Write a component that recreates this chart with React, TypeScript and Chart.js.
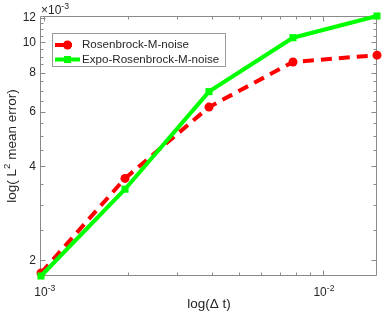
import React, { useEffect, useRef } from "react";
import { Chart, registerables } from "chart.js";

Chart.register(...registerables);

// ---- data ----
const dtValues = [1 / 1024, 1 / 512, 1 / 256, 1 / 128, 1 / 64];
const rosenbrockErr = [1.82e-3, 3.66e-3, 6.2e-3, 8.65e-3, 9.1e-3];
const expoRosenbrockErr = [1.78e-3, 3.38e-3, 6.95e-3, 10.35e-3, 12.15e-3];
const seriesLabels = ["Rosenbrock-M-noise", "Expo-Rosenbrock-M-noise"];
const xLimits = [1 / 1024, 1 / 64];
const yLimits = [1.78e-3, 12.15e-3];
const xMajorExponents = [-3, -2];
const xMinorTicks = [2e-3, 3e-3, 4e-3, 5e-3, 6e-3, 7e-3, 8e-3, 9e-3];
const yMajorTicks = [2, 4, 6, 8, 10, 12]; // ×10^-3
const yMinorTicks = [2.5, 3, 3.5, 4.5, 5, 5.5, 6.5, 7, 7.5, 8.5, 9, 9.5, 10.5, 11, 11.5]; // ×10^-3
const yScaleExponent = -3;
const xTitle = "log(Δ t)";
const yTitleParts = ["log( L", "2", " mean error)"];

const RED = "#ff0000";
const GREEN = "#00ff00";
const AXIS = "#8a8a8a";
const TEXT = "#262626";
const FONT = "'Liberation Sans', Arial, Helvetica, sans-serif";

type Seg = { t: string; sup?: boolean };

function drawRich(ctx: CanvasRenderingContext2D, segs: Seg[], x: number, y: number, align: "left" | "center" | "right", size: number) {
  const supSize = size * 0.72;
  const widths = segs.map((s) => {
    ctx.font = `${s.sup ? supSize : size}px ${FONT}`;
    return ctx.measureText(s.t).width;
  });
  const total = widths.reduce((a, b) => a + b, 0);
  let cx = align === "center" ? x - total / 2 : align === "right" ? x - total : x;
  ctx.textAlign = "left";
  ctx.textBaseline = "alphabetic";
  segs.forEach((s, i) => {
    ctx.font = `${s.sup ? supSize : size}px ${FONT}`;
    ctx.fillText(s.t, cx, s.sup ? y - size * 0.42 : y);
    cx += widths[i];
  });
}

const axesPlugin = {
  id: "matlabAxes",
  beforeDatasetsDraw(chart: any) {
    const { ctx, chartArea: a, scales } = chart;
    const xs = scales.x;
    const ys = scales.y;
    const L = Math.round(a.left) - 0.5;
    const R = Math.round(a.right) - 0.5;
    const T = Math.round(a.top) + 0.5;
    const B = Math.round(a.bottom) - 0.5;
    ctx.save();
    ctx.fillStyle = "#ffffff";
    ctx.fillRect(0, 0, chart.width, chart.height);
    ctx.strokeStyle = AXIS;
    ctx.lineWidth = 1;
    ctx.beginPath();
    ctx.rect(L, T, R - L, B - T);
    ctx.stroke();
    const vt = (v: number, len: number) => {
      const px = Math.round(xs.getPixelForValue(v)) + 0.5;
      ctx.moveTo(px, B); ctx.lineTo(px, B - len);
      ctx.moveTo(px, T); ctx.lineTo(px, T + len);
    };
    const ht = (v: number, len: number) => {
      const py = Math.round(ys.getPixelForValue(v)) + 0.5;
      ctx.moveTo(L, py); ctx.lineTo(L + len, py);
      ctx.moveTo(R, py); ctx.lineTo(R - len, py);
    };
    ctx.beginPath();
    xMajorExponents.forEach((e) => vt(Math.pow(10, e), 5));
    xMinorTicks.forEach((v) => vt(v, 3));
    yMajorTicks.forEach((v) => ht(v * 1e-3, 5));
    yMinorTicks.forEach((v) => ht(v * 1e-3, 3));
    ctx.stroke();

    ctx.fillStyle = TEXT;
    // y tick labels
    ctx.font = `12px ${FONT}`;
    ctx.textAlign = "right";
    ctx.textBaseline = "middle";
    yMajorTicks.forEach((v) => {
      ctx.fillText(String(v), a.left - 5, ys.getPixelForValue(v * 1e-3) + 0.5);
    });
    // x tick labels
    xMajorExponents.forEach((e) => {
      const px = xs.getPixelForValue(Math.pow(10, e));
      drawRich(ctx, [{ t: "10" }, { t: String(e), sup: true }], px + 1, a.bottom + 20, "center", 12);
    });
    // exponent label
    drawRich(ctx, [{ t: "×10" }, { t: String(yScaleExponent), sup: true }], a.left, a.top - 2, "left", 12);
    // x title
    drawRich(ctx, [{ t: xTitle }], (a.left + a.right) / 2, a.bottom + 32, "center", 13.5);
    // y title
    ctx.save();
    ctx.translate(16, (a.top + a.bottom) / 2);
    ctx.rotate(-Math.PI / 2);
    drawRich(ctx, [{ t: yTitleParts[0] }, { t: yTitleParts[1], sup: true }, { t: yTitleParts[2] }], 0, 0, "center", 13.5);
    ctx.restore();
    ctx.restore();
  },
  afterDatasetsDraw(chart: any) {
    const { ctx } = chart;
    ctx.save();
    const bx = 52.5, by = 33.5, bw = 173, bh = 33;
    ctx.fillStyle = "#ffffff";
    ctx.fillRect(bx, by, bw, bh);
    ctx.strokeStyle = "#9a9a9a";
    ctx.lineWidth = 1;
    ctx.strokeRect(bx, by, bw, bh);
    const rows = [
      { y: 45, color: RED, end: 72, marker: "circle" },
      { y: 59.5, color: GREEN, end: 80, marker: "rect" },
    ];
    rows.forEach((r, i) => {
      ctx.strokeStyle = r.color;
      ctx.fillStyle = r.color;
      ctx.lineWidth = 4;
      ctx.beginPath();
      ctx.moveTo(55, r.y);
      ctx.lineTo(r.end, r.y);
      ctx.stroke();
      ctx.beginPath();
      if (r.marker === "circle") {
        ctx.arc(67.5, r.y, 4.5, 0, Math.PI * 2);
      } else {
        ctx.rect(67.5 - 3.5, r.y - 3.5, 7, 7);
      }
      ctx.fill();
      ctx.fillStyle = TEXT;
      ctx.font = `11.6px ${FONT}`;
      ctx.textAlign = "left";
      ctx.textBaseline = "middle";
      ctx.fillText(seriesLabels[i], 82, r.y);
    });
    ctx.restore();
  },
};

export default function App() {
  const ref = useRef<HTMLCanvasElement>(null);
  useEffect(() => {
    document.body.style.margin = "0";
    const chart = new Chart(ref.current as HTMLCanvasElement, {
      type: "line",
      data: {
        datasets: [
          {
            label: seriesLabels[0],
            data: dtValues.map((x, i) => ({ x, y: rosenbrockErr[i] })),
            borderColor: RED,
            backgroundColor: RED,
            borderWidth: 4,
            borderDash: [11, 7],
            pointStyle: "circle",
            pointRadius: 4.5,
            pointBorderWidth: 0,
            pointBackgroundColor: RED,
            tension: 0,
            clip: false as any,
            order: 1,
          },
          {
            label: seriesLabels[1],
            data: dtValues.map((x, i) => ({ x, y: expoRosenbrockErr[i] })),
            borderColor: GREEN,
            backgroundColor: GREEN,
            borderWidth: 4,
            pointStyle: "rect",
            pointRadius: 5,
            pointBorderWidth: 0,
            pointBackgroundColor: GREEN,
            tension: 0,
            clip: false as any,
            order: 0,
          },
        ],
      },
      options: {
        responsive: false,
        animation: false,
        devicePixelRatio: 1,
        layout: { padding: { left: 41, top: 16, right: 5, bottom: 43 } },
        scales: {
          x: { type: "logarithmic", min: xLimits[0], max: xLimits[1], display: false },
          y: { type: "logarithmic", min: yLimits[0], max: yLimits[1], display: false },
        },
        plugins: { legend: { display: false }, tooltip: { enabled: false } },
      },
      plugins: [axesPlugin],
    });
    return () => chart.destroy();
  }, []);
  return <canvas ref={ref} width={382} height={319} style={{ display: "block" }} />;
}
